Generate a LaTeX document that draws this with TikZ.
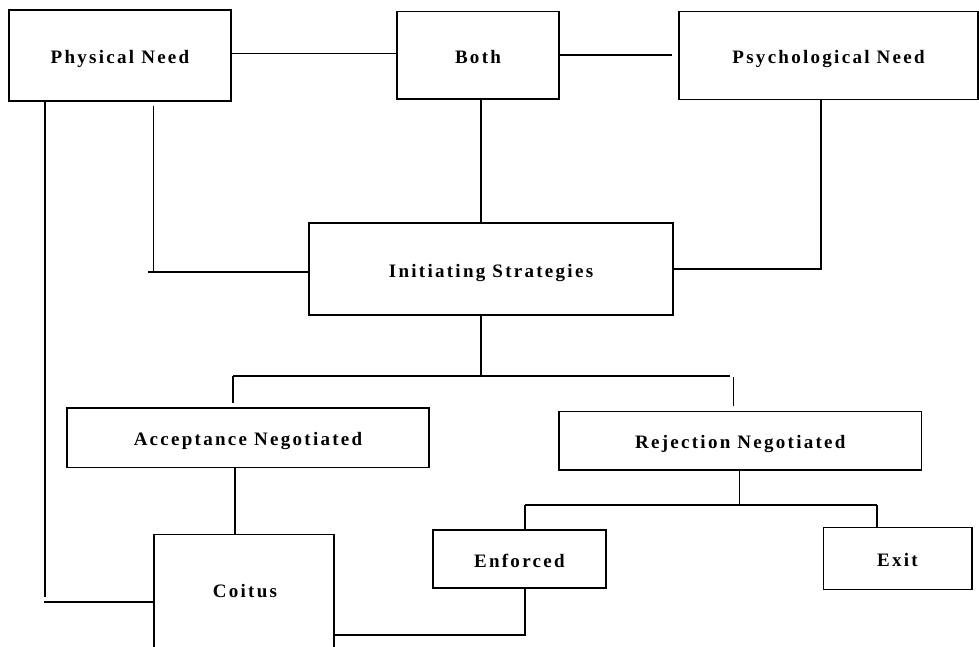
\documentclass[tikz,border=0pt]{standalone}
\usepackage{fontspec}
\setmainfont{Liberation Serif}
\newfontfamily\boxfont{Liberation Serif Bold}[LetterSpace=12]
\begin{document}
\begin{tikzpicture}[x=1pt,y=-1pt,
  box/.style={draw=black,line width=1.6pt,rectangle,inner sep=0pt,
    text height=16.6pt,text depth=0pt,
    font=\boxfont\fontsize{19}{21}\selectfont},
  lbl/.style={inner sep=0pt,text height=16.6pt,text depth=0pt,
    font=\boxfont\fontsize{19}{21}\selectfont},
  conn/.style={draw=black,line width=1.6pt}]
\useasboundingbox (0,0) rectangle (979,646);
\clip (0,0) rectangle (979,646);
% boxes
\node[box,minimum width=222pt,minimum height=91pt] (phys) at (120,55.5) {Physical Need};
\node[box,minimum width=162pt,minimum height=87.5pt] (both) at (478,55.25) {Both};
\node[box,minimum width=299pt,minimum height=88pt] (psych) at (828.5,55.5) {Psychological Need};
\node[box,minimum width=364pt,minimum height=92pt] (init) at (491,269) {Initiating Strategies};
\node[box,minimum width=362pt,minimum height=59.6pt] (accept) at (248,437.5) {Acceptance Negotiated};
\node[box,minimum width=362.7pt,minimum height=58.4pt] (reject) at (740.3,440.5) {Rejection Negotiated};
\node[box,minimum width=180.3pt,minimum height=170pt,anchor=north west] (coitus) at (153,533.7) {};
\node[lbl] (coituslbl) at (245,588.8) {Coitus};
\node[box,minimum width=172.7pt,minimum height=57.7pt] (enforced) at (519.35,558.85) {Enforced};
\node[box,minimum width=148.4pt,minimum height=62pt] (exit) at (897.5,558.3) {Exit};
% top row connectors
\coordinate (pby) at (300,53.3);
\draw[conn] (phys.east |- pby) -- (both.west |- pby);
\draw[conn] (both.east) -- ([xshift=-6pt]psych.west |- both.east);
\coordinate (bx) at (481,150);
\draw[conn] (both.south -| bx) -- (init.north -| bx);
% physical need -> initiating
\coordinate (pk) at (153.3,272);
\draw[conn] ([yshift=-4pt]phys.south -| pk) -- (pk);
\draw[conn] ([xshift=-5pt]pk) -- (init.west |- pk);
% psychological need -> initiating
\coordinate (qk) at (821,269);
\draw[conn] (psych.south -| qk) -- (qk) -- (init.east |- qk);
% long left line to coitus
\coordinate (lk) at (45,601.7);
\draw[conn] (phys.south -| lk) -- ([yshift=5pt]lk);
\draw[conn] ([xshift=-1pt]lk) -- (coitus.west |- lk);
% initiating -> branches
\coordinate (ik) at (481,375.7);
\coordinate (bl) at (233,375.7);
\coordinate (br) at (730,375.7);
\draw[conn] (init.south -| ik) -- (ik);
\draw[conn] (bl) -- (br);
\draw[conn] (bl) -- ([yshift=3.7pt]accept.north -| bl);
\coordinate (brd) at (733.3,377);
\draw[conn] (brd) -- ([yshift=5pt]reject.north -| brd);
% acceptance -> coitus
\coordinate (ax) at (235,500);
\draw[conn] (accept.south -| ax) -- (coitus.north -| ax);
% rejection -> enforced, exit
\coordinate (rk) at (739.3,505);
\coordinate (rl) at (525,505);
\coordinate (rr) at (877,505);
\draw[conn] (reject.south -| rk) -- (rk);
\draw[conn] (rl) -- (rr);
\draw[conn] (rl) -- (enforced.north -| rl);
\draw[conn] (rr) -- (exit.north -| rr);
% enforced -> coitus
\coordinate (ek) at (525,635);
\draw[conn] (enforced.south -| ek) -- (ek) -- (coitus.east |- ek);
\end{tikzpicture}
\end{document}
